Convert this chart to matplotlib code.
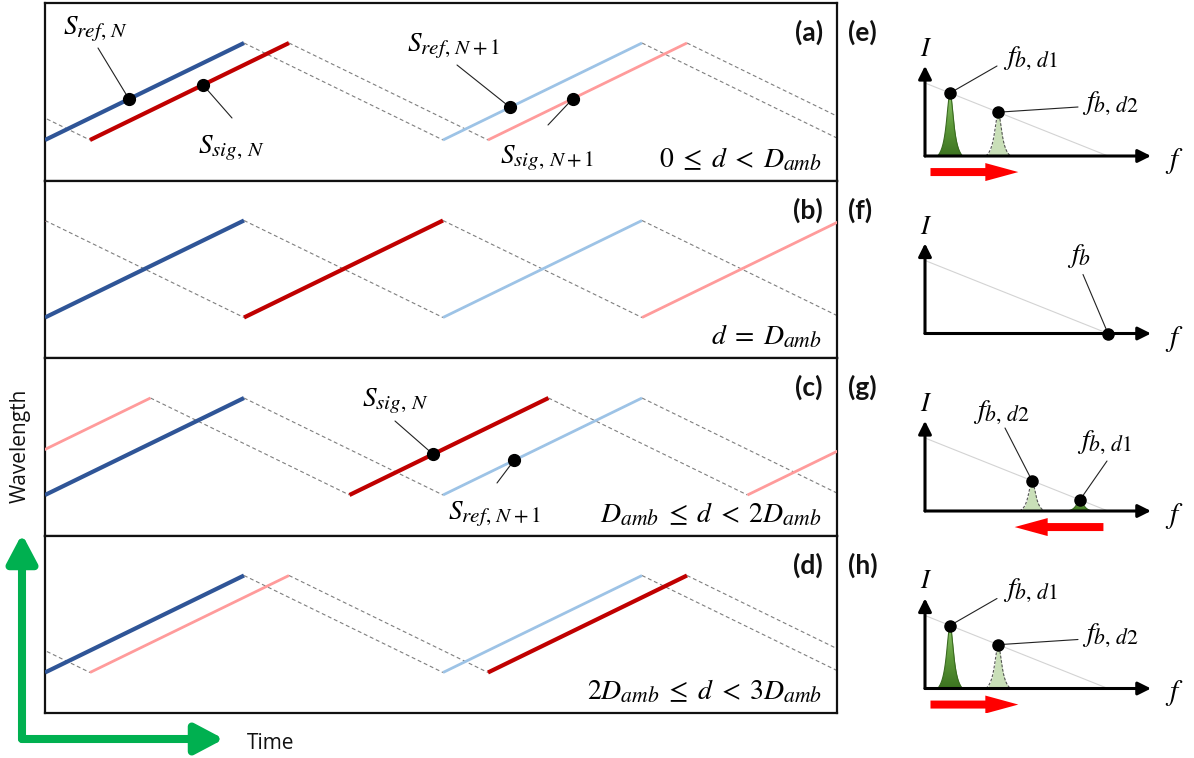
import numpy as np
import matplotlib
matplotlib.use('Agg')
import matplotlib.pyplot as plt
from matplotlib.patches import FancyArrow, FancyArrowPatch
from matplotlib.colors import LinearSegmentedColormap

try:
    import matplotlib._mathtext as _mt
    _mt.SHRINK_FACTOR = 0.78   # larger subscripts, closer to Cambria Math
except Exception:
    pass

plt.rcParams['mathtext.fontset'] = 'stix'
plt.rcParams['font.family'] = ['Open Sans', 'DejaVu Sans']

# ---------------- data ----------------
left_labels = ['(a)', '(b)', '(c)', '(d)']
conditions = [r'$0\;\leq\;d\;<\;D_{amb}$', r'$d\;=\;D_{amb}$',
              r'$D_{amb}\;\leq\;d\;<\;2D_{amb}$', r'$2D_{amb}\;\leq\;d\;<\;3D_{amb}$']
sig_delay = [0.226, 1.0, 1.53, 2.226]      # signal delay in ramp durations
sweep_k = [-2, -1, 0, 1, 2]                # sweep index relative to sweep N
ramp_period = 2.0                          # rise + fall, in ramp durations

# labelled points: (panel, series, sweep k, time, label)
points_panel = [0, 0, 0, 0, 2, 2]
points_series = ['ref', 'sig', 'ref', 'sig', 'sig', 'ref']
points_k = [0, 0, 1, 1, 0, 1]
points_t = [0.422, 0.794, 2.337, 2.653, 1.95, 2.357]
points_text = [r'$S_{ref,\,N}$', r'$S_{sig,\,N}$', r'$S_{ref,\,N+1}$', r'$S_{sig,\,N+1}$',
               r'$S_{sig,\,N}$', r'$S_{ref,\,N+1}$']

right_labels = ['(e)', '(f)', '(g)', '(h)']
peak_d1 = [0.137, None, 0.847, 0.137]      # beat frequency of target d1
peak_d2 = [0.40, None, 0.585, 0.40]        # beat frequency of target d2
single_peak = [None, 1.0, None, None]
shift_from = [0.03, None, 0.975, 0.03]
shift_to = [0.51, None, 0.49, 0.51]

# ---------------- layout ----------------
W, H = 1194, 758
fig = plt.figure(figsize=(W / 100, H / 100), dpi=100)
X0, X1 = 45, 837
TOP0, ROWH = 3, 177.5
PX_T = 199.0        # pixels per ramp duration
PX_L = 97.0         # pixels per ramp height
RAMP_BOT = 137.0    # ramp bottom offset from row top

C_DB, C_LB = '#2F5597', '#9DC3E6'
C_DR, C_LR = '#C00000', '#FF9B9B'
GRAY = '#7F7F7F'
LABEL_FONT = ['Lato', 'DejaVu Sans']


def figpx(x, y):
    return (x, H - y)


def wave(ax, start, dark, light, ks):
    for k in ks:
        s = start + ramp_period * k
        col, lw, z = (dark, 3.0, 4) if k == 0 else (light, 2.0, 3)
        ax.plot([s, s + 1], [0, 1], color=col, lw=lw, solid_capstyle='butt', zorder=z)
        ax.plot([s + 1, s + 2], [1, 0], color=GRAY, lw=0.8,
                linestyle=(0, (3.5, 2.5)), zorder=2)


left_axes = []
tmax = (X1 - X0) / PX_T
for i in range(4):
    top = TOP0 + i * ROWH
    ax = fig.add_axes([X0 / W, 1 - (top + ROWH) / H, (X1 - X0) / W, ROWH / H])
    ax.set_xlim(0, tmax)
    ax.set_ylim(-(ROWH - RAMP_BOT) / PX_L, 1 + (RAMP_BOT - PX_L) / PX_L)
    ax.set_xticks([])
    ax.set_yticks([])
    for sp in ax.spines.values():
        sp.set_linewidth(1.6)
        sp.set_color('#111111')
    wave(ax, 0.0, C_DB, C_LB, sweep_k)
    wave(ax, sig_delay[i], C_DR, C_LR, sweep_k)
    fig.text(823 / W, 1 - (top + 38) / H, left_labels[i], ha='right', va='baseline',
             fontsize=19, fontweight='bold', family=LABEL_FONT, color='#111111')
    fig.text(822 / W, 1 - (top + 164) / H, conditions[i], ha='right', va='baseline',
             fontsize=20)
    left_axes.append(ax)

# labelled dots with leader lines
text_pos = [(63, 33), (198, 152), (407, 50), (500, 162), (362, 405), (448, 518)]
lead_pos = [(98, 48), (232, 118), (457, 65), (548, 125), (395, 421), (497, 483)]
for j in range(len(points_t)):
    ax = left_axes[points_panel[j]]
    start = 0.0 if points_series[j] == 'ref' else sig_delay[points_panel[j]]
    start += ramp_period * points_k[j]
    t = points_t[j]
    lam = t - start
    ax.plot([t], [lam], 'o', color='black', ms=8.5, zorder=6)
    ax.annotate('', xy=(t, lam), xycoords='data', xytext=figpx(*lead_pos[j]),
                textcoords='figure pixels',
                arrowprops=dict(arrowstyle='-', lw=0.8, color='#222222',
                                shrinkA=0, shrinkB=0), zorder=5)
    fig.text(text_pos[j][0] / W, 1 - text_pos[j][1] / H, points_text[j],
             ha='left', va='baseline', fontsize=19.5)

# ---------------- right panels ----------------
RX0 = 880
F0 = 925
PX_F = 183.0
PX_I = 73.0
BASE = 153.0

green_cmap = LinearSegmentedColormap.from_list('g', ['#3D7421', '#5E9A3A', '#8CC46A'])


def rel(dx, dy):
    return (dx / PX_F, -dy / PX_I)


def peak(ax, f0, h, face, edge, ls, gradient=False):
    hw = 0.068
    g = 0.024
    x = np.linspace(-hw, hw, 301)
    L = 1 / (1 + (x / g) ** 2)
    Lb = 1 / (1 + (hw / g) ** 2)
    y = h * (L - Lb) / (1 - Lb)
    poly = ax.fill_between(f0 + x, 0, y, color=face, lw=0, zorder=3)
    if gradient:
        grad = np.linspace(0, 1, 64).reshape(-1, 1)
        im = ax.imshow(grad, cmap=green_cmap, origin='lower', aspect='auto',
                       extent=[f0 - hw, f0 + hw, 0, max(h, 0.01)], zorder=3.5)
        im.set_clip_path(poly.get_paths()[0], transform=ax.transData)
    ax.plot(f0 + x, y, color=edge, lw=0.8, linestyle=ls, zorder=4)


for i in range(4):
    top = TOP0 + i * ROWH
    ax = fig.add_axes([RX0 / W, 1 - (top + ROWH) / H, (W - RX0) / W, ROWH / H])
    ax.set_xlim((RX0 - F0) / PX_F, (W - F0) / PX_F)
    ax.set_ylim(-(ROWH - BASE) / PX_I, BASE / PX_I)
    ax.axis('off')
    # envelope line
    ax.plot([0, 1], [1, 0], color='#D3D3D3', lw=0.8, zorder=1)
    # axes arrows
    for tip in [(1.235, 0), (0, 1.235)]:
        ax.annotate('', xy=tip, xytext=(0, 0),
                    arrowprops=dict(arrowstyle='-|>,head_length=0.6,head_width=0.3',
                                    lw=2.2, color='black', shrinkA=0, shrinkB=0,
                                    mutation_scale=13), zorder=5)
    ax.text(*rel(-5, -100), r'$I$', ha='left', va='baseline', fontsize=19)
    ax.text(*rel(240, 12), r'$f$', ha='left', va='baseline', fontsize=21)
    fig.text(848 / W, 1 - (top + 38) / H, right_labels[i], ha='left', va='baseline',
             fontsize=19, fontweight='bold', family=LABEL_FONT, color='#111111')

    if peak_d1[i] is not None:
        f1, f2 = peak_d1[i], peak_d2[i]
        h1, h2 = 1 - f1, 1 - f2
        peak(ax, f2, h2, '#C9DFB8', '#555555', (0, (2.5, 1.5)))
        peak(ax, f1, h1, '#5E9A3A', '#3B6B22', '-', gradient=True)
        ax.plot([f1, f2], [h1, h2], 'o', color='black', ms=8, zorder=7)
        if f1 < f2:
            t1, l1 = (78, -92), (72, -90)
            t2, l2 = (157, -47), (153, -49)
        else:
            t1, l1 = (152, -63), (182, -50)
            t2, l2 = (48, -93), (80, -83)
        for (f, h, tp, lp, lab) in [(f1, h1, t1, l1, r'$f_{b,\,d1}$'), (f2, h2, t2, l2, r'$f_{b,\,d2}$')]:
            ax.annotate('', xy=(f, h), xytext=rel(*lp),
                        arrowprops=dict(arrowstyle='-', lw=0.8, color='#222222',
                                        shrinkA=0, shrinkB=0), zorder=6)
            ax.text(*rel(*tp), lab, ha='left', va='baseline', fontsize=20)
        d = shift_to[i] - shift_from[i]
        arr = FancyArrow(shift_from[i], -0.22, d, 0, width=8 / PX_I,
                         head_width=18 / PX_I, head_length=33 / PX_F,
                         length_includes_head=True, color='#FF0000', lw=0, zorder=5)
        ax.add_patch(arr)
    else:
        fb = single_peak[i]
        ax.plot([fb], [0], 'o', color='black', ms=8, zorder=7)
        ax.annotate('', xy=(fb, 0), xytext=rel(158, -59),
                    arrowprops=dict(arrowstyle='-', lw=0.8, color='#222222',
                                    shrinkA=0, shrinkB=0), zorder=6)
        ax.text(*rel(142, -71), r'$f_{b}$', ha='left', va='baseline', fontsize=20)

# ---------------- axis indicator ----------------
GREEN = '#00B050'
corner = (22, 739)
for tip in [(22, 534), (224, 739)]:
    fig.add_artist(FancyArrowPatch(
        posA=figpx(*corner), posB=figpx(*tip), transform=None,
        arrowstyle='-|>,head_length=0.85,head_width=0.45', mutation_scale=20,
        lw=5.8, color=GREEN, shrinkA=0, shrinkB=0, capstyle='round'))
fig.text(247 / W, 1 - 749 / H, 'Time', ha='left', va='baseline', fontsize=15, color='#111111')
fig.text(20 / W, 1 - 446 / H, 'Wavelength', ha='center', va='center', rotation=90,
         fontsize=15, color='#111111')

fig.savefig('out.png', dpi=100)
